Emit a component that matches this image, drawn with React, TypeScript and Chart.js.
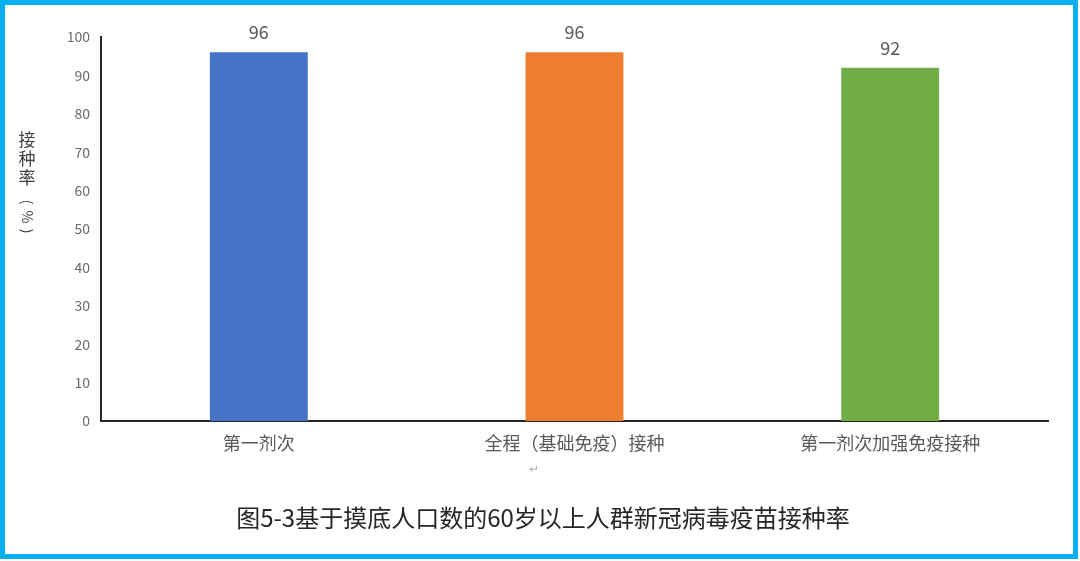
import React, { useEffect, useRef } from "react";
import { Chart, registerables } from "chart.js";

Chart.register(...registerables);

const categories = ["第一剂次", "全程（基础免疫）接种", "第一剂次加强免疫接种"];
const rates = [96, 96, 92];
const barColors = ["#4472C4", "#ED7D31", "#70AD47"];
const yTitleChars = ["接", "种", "率"];
const yTitleUnit = ["(", "%", ")"];
const caption = "图5-3基于摸底人口数的60岁以上人群新冠病毒疫苗接种率";

const FONT = '"Noto Sans CJK SC", "Noto Sans", sans-serif';

const extrasPlugin = {
  id: "extras",
  afterDatasetsDraw(chart: any) {
    const ctx = chart.ctx;
    const meta = chart.getDatasetMeta(0);
    ctx.save();
    ctx.fillStyle = "#595959";
    ctx.font = `18px ${FONT}`;
    ctx.textAlign = "center";
    ctx.textBaseline = "alphabetic";
    meta.data.forEach((bar: any, i: number) => {
      ctx.fillText(String(rates[i]), bar.x, bar.y - 13);
    });
    ctx.restore();
  },
  afterDraw(chart: any) {
    const ctx = chart.ctx;
    ctx.save();
    // y-axis title, stacked vertically
    ctx.fillStyle = "#404040";
    ctx.font = `17px ${FONT}`;
    ctx.textAlign = "center";
    ctx.textBaseline = "middle";
    const ys = [140, 159, 178];
    yTitleChars.forEach((c, i) => ctx.fillText(c, 27, ys[i]));
    const uys = [202, 217, 231];
    ctx.font = `14px ${FONT}`;
    yTitleUnit.forEach((c, i) => {
      ctx.save();
      ctx.translate(27, uys[i]);
      ctx.rotate(Math.PI / 2);
      ctx.fillText(c, 0, 0);
      ctx.restore();
    });
    // paragraph mark
    ctx.fillStyle = "#b0b0b0";
    ctx.font = `12px ${FONT}`;
    ctx.fillText("↵", 534, 468);
    // caption
    ctx.fillStyle = "#262626";
    ctx.font = `24px ${FONT}`;
    ctx.fillText(caption, 543, 518);
    ctx.restore();
  },
};

export default function App() {
  const ref = useRef<HTMLCanvasElement>(null);
  useEffect(() => {
    if (!ref.current) return;
    const chart = new Chart(ref.current, {
      type: "bar",
      data: {
        labels: categories,
        datasets: [
          {
            data: rates,
            backgroundColor: barColors,
            borderWidth: 0,
            barPercentage: 0.31,
            categoryPercentage: 1,
          },
        ],
      },
      options: {
        responsive: false,
        animation: false,
        layout: { padding: { left: 0, right: 32, top: 37, bottom: 0 } },
        plugins: {
          legend: { display: false },
          tooltip: { enabled: false },
          title: { display: false },
        },
        scales: {
          x: {
            grid: { display: false, drawTicks: false },
            border: { display: true, color: "#262626", width: 2 },
            ticks: {
              color: "#595959",
              font: { size: 18, family: FONT },
              padding: 11,
              maxRotation: 0,
              autoSkip: false,
            },
            afterFit(scale: any) {
              scale.height = 140;
            },
          },
          y: {
            min: 0,
            max: 100,
            grid: { display: false, drawTicks: false },
            border: { display: true, color: "#262626", width: 2 },
            ticks: {
              stepSize: 10,
              color: "#6b6b6b",
              font: { size: 14, family: FONT },
              padding: 11,
            },
            afterFit(scale: any) {
              scale.width = 101;
            },
          },
        },
      },
      plugins: [extrasPlugin],
    });
    return () => chart.destroy();
  }, []);

  return (
    <div
      style={{
        position: "fixed",
        left: 0,
        top: 0,
        width: 1080,
        height: 561,
        background: "#ffffff",
      }}
    >
      <canvas
        ref={ref}
        width={1080}
        height={561}
        style={{ position: "absolute", left: 0, top: 0 }}
      />
      <div
        style={{
          position: "absolute",
          left: 0,
          top: 0,
          width: 1078,
          height: 559,
          boxSizing: "border-box",
          border: "5px solid #00B0F0",
          pointerEvents: "none",
        }}
      />
    </div>
  );
}
